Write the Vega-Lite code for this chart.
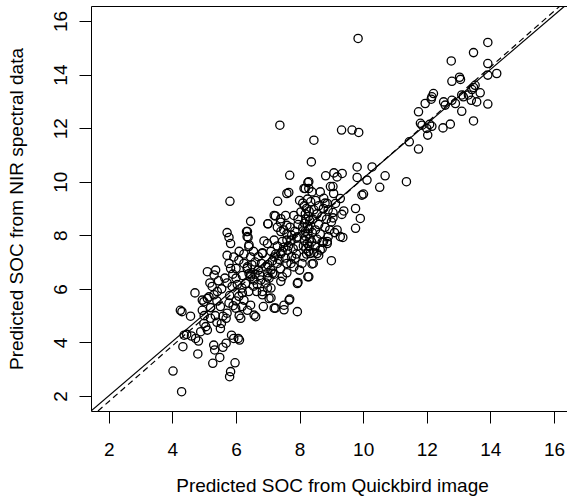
{
"$schema": "https://vega.github.io/schema/vega-lite/v6.json",
"width": 476,
"height": 405,
"autosize": {"type": "none"},
"padding": {"left": 91, "top": 6, "right": 0, "bottom": 86},
"background": "white",
"config": {"view": {"stroke": null}, "font": "Liberation Sans"},
"datasets": {
"pts": [
{"x":9.84,"y":15.35},{"x":13.92,"y":15.2},{"x":13.47,"y":14.82},{"x":12.77,"y":14.51},{"x":13.92,"y":14.41},{"x":14.2,"y":14.04},{"x":13.92,"y":13.98},{"x":13.03,"y":13.9},{"x":13.06,"y":13.82},{"x":12.79,"y":13.75},{"x":13.47,"y":13.52},{"x":13.42,"y":13.44},{"x":13.52,"y":13.6},{"x":13.68,"y":13.32},{"x":12.21,"y":13.29},{"x":12.16,"y":13.17},{"x":12.14,"y":13.08},{"x":11.95,"y":12.92},{"x":12.53,"y":12.98},{"x":12.79,"y":13.04},{"x":12.9,"y":12.92},{"x":12.58,"y":12.86},{"x":13.15,"y":13.17},{"x":13.31,"y":13.24},{"x":13.4,"y":13.04},{"x":13.1,"y":13.24},{"x":13.57,"y":12.98},{"x":13.92,"y":12.9},{"x":13.1,"y":12.63},{"x":11.74,"y":12.61},{"x":11.8,"y":12.18},{"x":11.85,"y":12.11},{"x":12.0,"y":11.99},{"x":12.16,"y":12.07},{"x":12.09,"y":12.14},{"x":12.74,"y":12.15},{"x":12.51,"y":12.01},{"x":13.47,"y":12.27},{"x":12.03,"y":11.74},{"x":11.45,"y":11.49},{"x":11.74,"y":11.22},
{"x":9.32,"y":11.93},{"x":9.65,"y":11.93},{"x":9.86,"y":11.84},{"x":8.45,"y":11.55},{"x":8.37,"y":10.74},{"x":9.81,"y":10.55},{"x":10.28,"y":10.55},{"x":9.81,"y":10.16},{"x":10.12,"y":10.06},{"x":10.69,"y":10.22},{"x":10.52,"y":9.79},{"x":11.36,"y":10.0},{"x":8.82,"y":10.22},{"x":9.08,"y":10.33},{"x":9.34,"y":10.31},{"x":9.18,"y":10.18},{"x":9.05,"y":9.82},{"x":8.26,"y":9.97},{"x":8.29,"y":9.75},{"x":9.96,"y":9.5},{"x":10.01,"y":9.54},{"x":9.76,"y":9.0},{"x":9.91,"y":8.63},{"x":9.76,"y":8.26},{"x":9.28,"y":9.37},{"x":9.39,"y":8.91},{"x":9.33,"y":8.78},{"x":9.18,"y":8.2},{"x":9.28,"y":7.95},{"x":9.36,"y":7.92},{"x":8.87,"y":7.69},{"x":8.71,"y":7.5},{"x":9.0,"y":7.05},{"x":8.43,"y":6.95},{"x":8.29,"y":6.45},{"x":7.93,"y":6.2},{"x":7.93,"y":5.15},{"x":8.29,"y":10.0},{"x":7.69,"y":10.24},{"x":7.66,"y":9.6},{"x":7.6,"y":9.56},{"x":7.31,"y":9.27},{"x":7.38,"y":12.11},{"x":8.14,"y":9.75},{"x":8.39,"y":9.62},{"x":8.65,"y":9.62},{"x":8.76,"y":9.38},{"x":8.97,"y":9.82},{"x":9.07,"y":9.56},{"x":8.87,"y":9.19},{"x":9.13,"y":9.19},
{"x":8.15,"y":9.1},{"x":8.22,"y":9.0},{"x":8.3,"y":8.9},{"x":8.18,"y":8.8},{"x":8.28,"y":8.7},{"x":8.2,"y":8.6},{"x":8.32,"y":8.55},{"x":8.15,"y":8.45},{"x":8.25,"y":8.35},{"x":8.3,"y":8.25},{"x":8.18,"y":8.15},{"x":8.26,"y":8.05},{"x":8.2,"y":7.95},{"x":8.33,"y":7.88},{"x":8.16,"y":7.8},{"x":8.24,"y":7.7},{"x":8.3,"y":7.6},{"x":8.2,"y":7.5},{"x":8.28,"y":7.4},{"x":8.22,"y":7.3},{"x":8.35,"y":9.25},{"x":8.25,"y":9.35},{"x":8.4,"y":8.1},{"x":8.1,"y":8.3},{"x":8.38,"y":7.75},{"x":8.12,"y":7.6},{"x":8.42,"y":8.6},{"x":8.1,"y":9.2},
{"x":8.5,"y":9.3},{"x":8.6,"y":9.1},{"x":8.75,"y":9.0},{"x":8.9,"y":8.95},{"x":9.05,"y":8.85},{"x":8.55,"y":8.8},{"x":8.7,"y":8.7},{"x":8.85,"y":8.6},{"x":9.0,"y":8.5},{"x":8.6,"y":8.4},{"x":8.8,"y":8.3},{"x":8.95,"y":8.2},{"x":8.5,"y":8.2},{"x":8.65,"y":8.05},{"x":8.9,"y":7.95},{"x":9.1,"y":8.1},{"x":8.55,"y":7.85},{"x":8.75,"y":7.75},{"x":8.5,"y":7.6},{"x":8.65,"y":7.45},{"x":9.05,"y":8.65},{"x":8.45,"y":8.95},{"x":8.8,"y":9.2},{"x":8.6,"y":7.25},{"x":8.45,"y":7.35},
{"x":7.2,"y":8.74},{"x":7.41,"y":8.62},{"x":7.56,"y":8.74},{"x":7.82,"y":8.74},{"x":8.04,"y":8.87},{"x":7.4,"y":8.49},{"x":7.6,"y":8.37},{"x":7.0,"y":8.43},{"x":7.24,"y":8.72},{"x":7.41,"y":8.14},{"x":7.46,"y":7.77},{"x":7.6,"y":7.82},{"x":7.2,"y":7.82},{"x":6.88,"y":7.79},{"x":6.83,"y":7.35},{"x":7.3,"y":8.3},{"x":7.5,"y":8.2},{"x":7.7,"y":8.3},{"x":7.85,"y":8.15},{"x":7.95,"y":8.4},{"x":7.75,"y":8.0},{"x":7.6,"y":8.05},{"x":7.9,"y":7.9},{"x":7.3,"y":7.6},{"x":7.5,"y":7.55},{"x":7.65,"y":7.6},{"x":7.8,"y":7.5},{"x":7.95,"y":7.6},{"x":7.1,"y":7.4},{"x":7.25,"y":7.3},{"x":7.45,"y":7.4},{"x":7.62,"y":7.44},{"x":7.41,"y":7.32},{"x":7.2,"y":7.19},{"x":6.99,"y":7.69},{"x":7.73,"y":7.82},{"x":7.93,"y":7.94},{"x":6.83,"y":7.32},{"x":7.15,"y":7.05},{"x":7.35,"y":7.1},{"x":7.55,"y":7.15},{"x":7.75,"y":7.2},{"x":7.9,"y":7.3},{"x":7.0,"y":6.9},{"x":7.3,"y":6.95},{"x":7.73,"y":6.95},{"x":7.82,"y":6.82},{"x":8.08,"y":6.95},{"x":7.1,"y":6.7},{"x":6.94,"y":6.82},{"x":7.46,"y":6.45},{"x":7.86,"y":7.14},{"x":8.13,"y":7.19},{"x":7.6,"y":6.95},{"x":7.4,"y":6.75},{"x":7.2,"y":6.55},{"x":7.0,"y":6.6},{"x":7.6,"y":6.6},{"x":8.0,"y":6.7},{"x":7.15,"y":6.58},{"x":6.99,"y":6.45},{"x":7.41,"y":6.28},{"x":6.78,"y":6.33},{"x":6.94,"y":6.22},{"x":7.04,"y":6.4},{"x":6.67,"y":6.16},{"x":7.1,"y":6.03},{"x":6.99,"y":6.03},{"x":6.83,"y":5.9},{"x":6.83,"y":5.78},{"x":7.1,"y":5.66},{"x":8.39,"y":6.93},{"x":8.55,"y":7.32},{"x":8.33,"y":7.32},{"x":8.71,"y":7.74},{"x":8.87,"y":7.77},{"x":8.26,"y":6.45},{"x":7.95,"y":6.24},{"x":7.69,"y":5.62},{"x":7.51,"y":5.39},{"x":7.51,"y":5.22},{"x":7.24,"y":5.28},{"x":6.86,"y":5.34},{"x":6.62,"y":4.96},{"x":6.57,"y":5.02},{"x":7.04,"y":5.64},{"x":7.2,"y":5.28},{"x":7.67,"y":5.58},{"x":6.46,"y":8.52},{"x":6.33,"y":8.14},{"x":6.35,"y":7.95},{"x":6.4,"y":7.58},{"x":6.46,"y":7.19},{"x":8.18,"y":9.75},{"x":7.95,"y":8.6},{"x":8.0,"y":9.3},{"x":7.01,"y":8.43},
{"x":5.81,"y":9.27},{"x":5.72,"y":8.1},{"x":5.78,"y":7.92},{"x":5.83,"y":7.69},{"x":5.72,"y":7.25},{"x":5.78,"y":6.95},{"x":5.83,"y":6.76},{"x":5.93,"y":7.19},{"x":6.09,"y":7.07},{"x":6.25,"y":6.95},{"x":6.36,"y":6.82},{"x":6.41,"y":6.57},{"x":6.46,"y":6.45},{"x":6.57,"y":6.33},{"x":5.72,"y":6.22},{"x":5.88,"y":6.09},{"x":6.04,"y":6.16},{"x":6.19,"y":6.03},{"x":6.09,"y":5.72},{"x":6.25,"y":5.58},{"x":6.19,"y":5.34},{"x":6.36,"y":5.2},{"x":6.46,"y":5.39},{"x":6.36,"y":8.14},{"x":6.38,"y":7.92},{"x":6.41,"y":7.64},{"x":6.0,"y":6.76},{"x":6.35,"y":6.76},{"x":6.46,"y":6.52},{"x":6.6,"y":7.0},{"x":6.7,"y":7.2},{"x":6.55,"y":7.4},{"x":6.7,"y":6.7},{"x":6.5,"y":6.9},{"x":6.6,"y":6.55},{"x":6.75,"y":6.5},{"x":6.2,"y":6.5},{"x":6.0,"y":6.4},{"x":6.3,"y":6.2},{"x":6.55,"y":6.1},{"x":6.65,"y":5.9},{"x":6.4,"y":5.9},{"x":6.2,"y":5.85},{"x":5.99,"y":5.28},{"x":5.91,"y":5.37},{"x":5.78,"y":5.47},{"x":5.51,"y":5.34},{"x":5.59,"y":4.98},{"x":5.72,"y":5.09},{"x":5.69,"y":4.9},{"x":6.15,"y":4.9},{"x":5.55,"y":6.0},{"x":5.65,"y":6.4},{"x":5.9,"y":6.55},{"x":6.1,"y":7.4},{"x":6.25,"y":7.3},{"x":6.8,"y":6.95},{"x":6.1,"y":5.0},{"x":5.8,"y":5.75},{"x":6.0,"y":5.55},
{"x":4.02,"y":2.93},{"x":4.29,"y":2.16},{"x":4.33,"y":3.84},{"x":4.8,"y":3.57},{"x":5.27,"y":3.22},{"x":5.49,"y":3.44},{"x":5.33,"y":3.72},{"x":5.3,"y":3.9},{"x":5.59,"y":3.82},{"x":5.97,"y":3.24},{"x":5.83,"y":2.91},{"x":5.8,"y":2.72},{"x":5.86,"y":4.27},{"x":5.93,"y":4.15},{"x":6.11,"y":4.09},{"x":6.07,"y":4.15},{"x":5.69,"y":3.97},{"x":5.51,"y":4.52},{"x":5.54,"y":4.71},{"x":4.37,"y":4.27},{"x":4.6,"y":4.24},{"x":4.73,"y":4.15},{"x":4.82,"y":4.05},{"x":4.89,"y":4.4},{"x":5.05,"y":4.59},{"x":5.1,"y":4.46},{"x":4.99,"y":4.71},{"x":4.57,"y":4.98},{"x":4.25,"y":5.2},{"x":4.3,"y":5.15},{"x":4.71,"y":5.85},{"x":4.94,"y":5.2},{"x":4.99,"y":5.52},{"x":5.1,"y":5.64},{"x":4.94,"y":5.58},{"x":5.1,"y":6.64},{"x":5.36,"y":6.7},{"x":5.31,"y":6.52},{"x":5.18,"y":6.22},{"x":5.25,"y":6.09},{"x":5.41,"y":5.9},{"x":5.31,"y":5.78},{"x":5.2,"y":5.3},{"x":5.35,"y":5.0},{"x":5.2,"y":4.9},{"x":5.4,"y":4.75},{"x":4.45,"y":4.3},{"x":5.0,"y":5.0},{"x":5.45,"y":6.3},{"x":5.4,"y":5.55},{"x":5.15,"y":5.7}
],
"solid": [{"x":1.44,"y":1.44},{"x":16.34,"y":16.56}],
"dashed": [{"x":1.66,"y":1.44},{"x":16.19,"y":16.56}]
},
"layer": [
{
"data": {"name": "pts"},
"mark": {"type": "point", "shape": "circle", "filled": false, "color": "black", "strokeWidth": 1.3, "size": 68, "opacity": 1},
"encoding": {
"x": {"field": "x", "type": "quantitative", "title": "Predicted SOC from Quickbird image",
 "scale": {"domain": [1.44, 16.41], "nice": false, "zero": false},
 "axis": {"orient": "bottom", "values": [2,4,6,8,10,12,14,16], "grid": false, "tickSize": 12, "tickColor": "black", "tickWidth": 1, "domainColor": "black", "domainWidth": 1, "labelFontSize": 19, "labelColor": "black", "labelPadding": 32, "labelBaseline": "alphabetic", "labelFlush": false, "labelOverlap": false, "titleFontSize": 19, "titleFontWeight": "normal", "titleColor": "black", "titleBaseline": "alphabetic", "titleAlign": "center", "titleX": 241, "titleY": 80}},
"y": {"field": "y", "type": "quantitative", "title": "Predicted SOC from NIR spectral data",
 "scale": {"domain": [1.44, 16.56], "nice": false, "zero": false},
 "axis": {"values": [2,4,6,8,10,12,14,16], "grid": false, "tickSize": 12, "tickColor": "black", "tickWidth": 1, "domainColor": "black", "domainWidth": 1, "labelFontSize": 19, "labelColor": "black", "labelPadding": 13, "labelAngle": 270, "labelAlign": "center", "labelBaseline": "alphabetic", "labelFlush": false, "labelOverlap": false, "titleFontSize": 19, "titleFontWeight": "normal", "titleColor": "black", "titleAngle": 270, "titleAlign": "center", "titleBaseline": "alphabetic", "titleX": -69, "titleY": 202.5}}
}
},
{
"data": {"name": "solid"},
"mark": {"type": "line", "color": "black", "strokeWidth": 1.2, "clip": true},
"encoding": {
"x": {"field": "x", "type": "quantitative", "scale": {"domain": [1.44, 16.41], "nice": false, "zero": false},
 "axis": {"orient": "top", "ticks": false, "labels": false, "title": null, "grid": false, "domain": true, "domainColor": "black", "domainWidth": 1}},
"y": {"field": "y", "type": "quantitative", "title": "Predicted SOC from NIR spectral data", "scale": {"domain": [1.44, 16.56], "nice": false, "zero": false}}
}
},
{
"data": {"name": "dashed"},
"mark": {"type": "line", "color": "black", "strokeWidth": 1.2, "strokeDash": [6, 4], "clip": true},
"encoding": {
"x": {"field": "x", "type": "quantitative", "scale": {"domain": [1.44, 16.41], "nice": false, "zero": false}, "axis": null},
"y": {"field": "y", "type": "quantitative", "title": "Predicted SOC from NIR spectral data", "scale": {"domain": [1.44, 16.56], "nice": false, "zero": false}}
}
}
],
"resolve": {"axis": {"x": "independent"}}
}
